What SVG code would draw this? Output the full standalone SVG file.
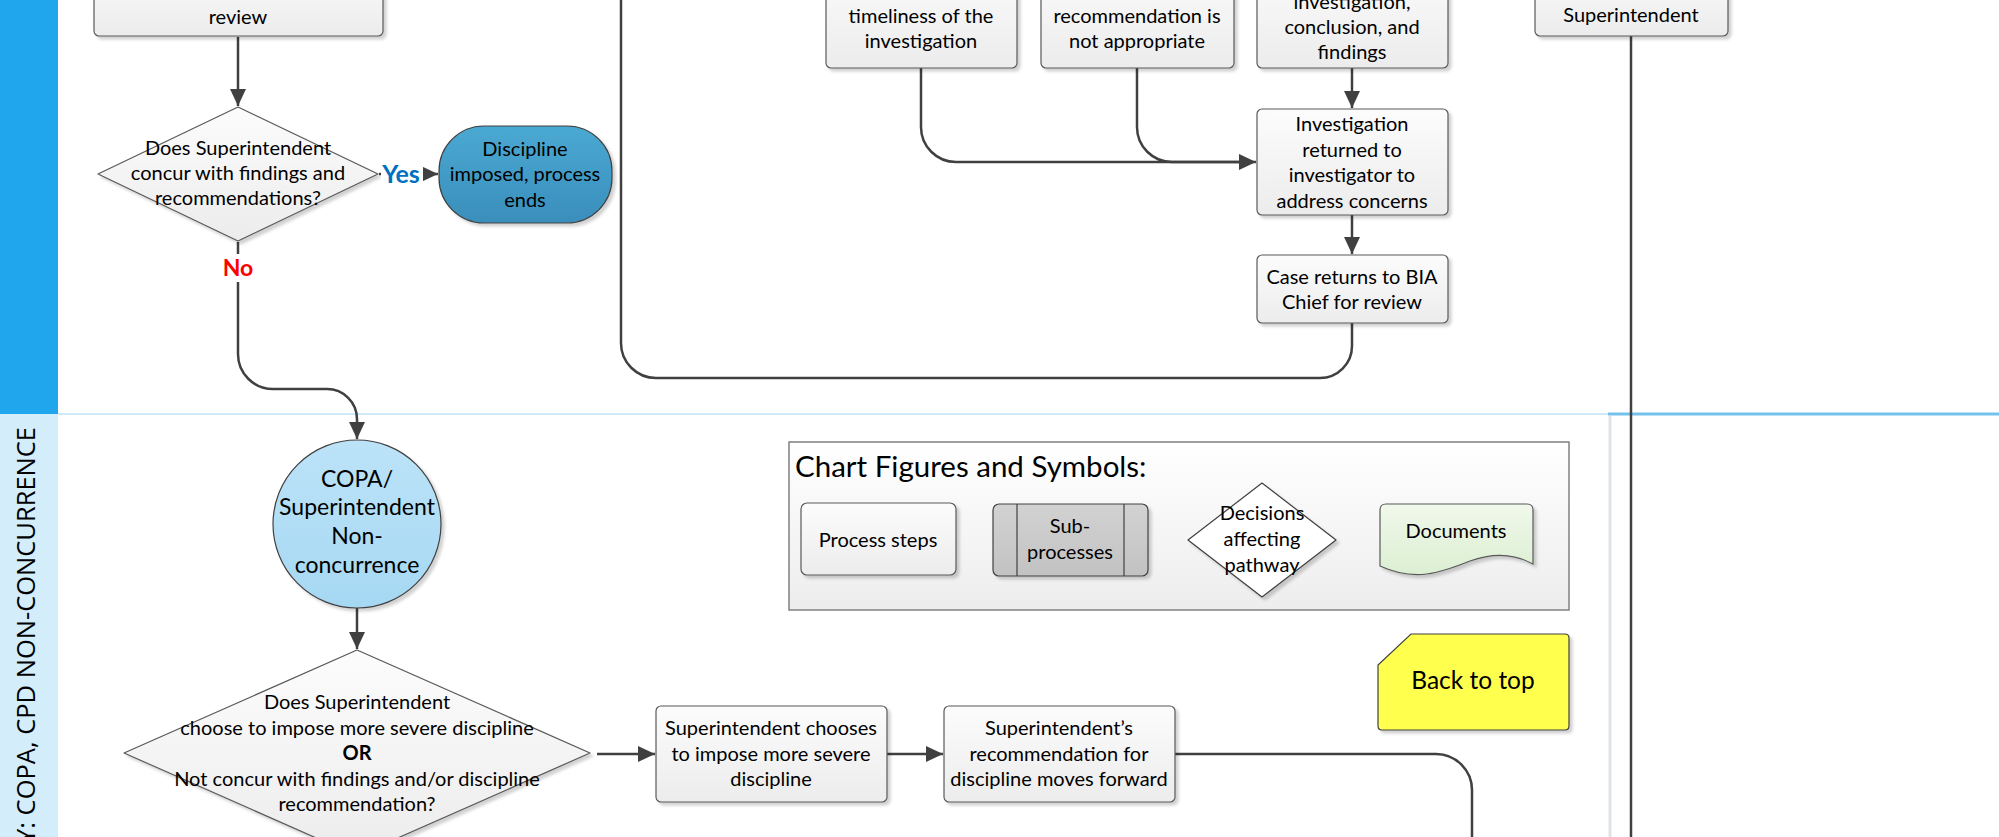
<svg xmlns="http://www.w3.org/2000/svg" width="1999" height="837" viewBox="0 0 1999 837">
<style>
.t{font-family:Lato,"Liberation Sans",sans-serif;font-size:20px;fill:#000;text-anchor:middle}
.box{fill:url(#gBox);stroke:#595959;stroke-width:1.2;filter:url(#sh)}
.c{fill:none;stroke:#404040;stroke-width:2.5}
.ca{fill:none;stroke:#404040;stroke-width:2.5;marker-end:url(#ah)}
</style>
<defs>
<linearGradient id="gBox" x1="0" y1="0" x2="0" y2="1"><stop offset="0" stop-color="#FCFCFC"/><stop offset="1" stop-color="#ECECEC"/></linearGradient>
<linearGradient id="gTerm" x1="0" y1="0" x2="0" y2="1"><stop offset="0" stop-color="#4AA9D2"/><stop offset="1" stop-color="#3A8EBB"/></linearGradient>
<linearGradient id="gCirc" x1="0" y1="0" x2="0" y2="1"><stop offset="0" stop-color="#BCE3F8"/><stop offset="1" stop-color="#A6D8F3"/></linearGradient>
<linearGradient id="gLeg" x1="0" y1="0" x2="0" y2="1"><stop offset="0" stop-color="#FFFFFF"/><stop offset="1" stop-color="#EDEDED"/></linearGradient>
<linearGradient id="gSub" x1="0" y1="0" x2="0" y2="1"><stop offset="0" stop-color="#D2D2D2"/><stop offset="1" stop-color="#C2C2C2"/></linearGradient>
<linearGradient id="gDoc" x1="0" y1="0" x2="0" y2="1"><stop offset="0" stop-color="#F0F8EB"/><stop offset="1" stop-color="#DCEFD2"/></linearGradient>
<filter id="sh" x="-10%" y="-10%" width="130%" height="130%"><feDropShadow dx="3" dy="3" stdDeviation="1.5" flood-color="#000" flood-opacity="0.18"/></filter>
<marker id="ah" markerUnits="userSpaceOnUse" markerWidth="17" markerHeight="16" refX="17" refY="8" orient="auto"><path d="M0,0 L17,8 L0,16 z" fill="#404040"/></marker>
</defs>

<g id="lanes">
<rect x="0" y="0" width="58" height="414" fill="#20A6ED"/>
<rect x="0" y="414" width="58" height="423" fill="#D3EDFB"/>
<line x1="58" y1="414" x2="1608" y2="414" stroke="#BFE3F6" stroke-width="1.5"/>
<line x1="1608" y1="414" x2="1999" y2="414" stroke="#74C2EC" stroke-width="3"/>
<line x1="1610" y1="416" x2="1610" y2="837" stroke="#DDE3E8" stroke-width="3"/>
<text transform="translate(35,427) rotate(-90)" style="font-family:'Open Sans','DejaVu Sans',sans-serif;font-size:25.5px;fill:#000;text-anchor:end">Y: COPA, CPD NON-CONCURRENCE</text>
</g>

<g id="connectors">
<path class="ca" d="M238,37 L238,106"/>
<path class="ca" d="M379,174 L438,174"/>
<path class="ca" d="M238,242 L238,354 A35,35 0 0 0 273,389 L327,389 A30,30 0 0 1 357,419 L357,439"/>
<path class="ca" d="M357,608 L357,649"/>
<path class="ca" d="M597,754 L655,754"/>
<path class="ca" d="M887,754 L943,754"/>
<path class="c" d="M1175,754 L1436,754 A36,36 0 0 1 1472,790 L1472,840"/>
<path class="ca" d="M1352,68 L1352,108"/>
<path class="ca" d="M921,68 L921,127 A35,35 0 0 0 956,162 L1256,162"/>
<path class="c" d="M1137,68 L1137,127 A35,35 0 0 0 1172,162 L1240,162"/>
<path class="ca" d="M1352,215 L1352,254"/>
<path class="c" d="M1352,323 L1352,346 A32,32 0 0 1 1320,378 L656,378 A35,35 0 0 1 621,343 L621,-10"/>
<path class="c" d="M1631,36 L1631,840"/>
</g>

<g id="nodeA"><rect class="box" x="94" y="-40" width="289" height="76" rx="5"/><text class="t" x="238" y="24">review</text></g>

<g id="decision1">
<path d="M98,174 L238,107 L378,174 L238,241 Z" fill="url(#gBox)" stroke="#595959" stroke-width="1.2" stroke-linejoin="round" filter="url(#sh)"/>
<text class="t" x="238"><tspan x="238" y="155">Does Superintendent</tspan><tspan x="238" y="180">concur with findings and</tspan><tspan x="238" y="205">recommendations?</tspan></text>
</g>
<g id="labelYes"><rect x="381" y="158" width="42" height="30" fill="#fff"/><text x="401" y="183" style="font-family:Lato,'Liberation Sans',sans-serif;font-size:25px;font-weight:bold;fill:#0070C0;text-anchor:middle">Yes</text></g>
<g id="labelNo"><rect x="220" y="254" width="36" height="28" fill="#fff"/><text x="238" y="276" style="font-family:Lato,'Liberation Sans',sans-serif;font-size:23px;font-weight:bold;fill:#FF0000;text-anchor:middle">No</text></g>

<g id="terminator">
<rect x="439" y="126" width="173" height="97" rx="45" fill="url(#gTerm)" stroke="#404040" stroke-width="1.2" filter="url(#sh)"/>
<text class="t"><tspan x="525" y="156">Discipline</tspan><tspan x="525" y="181">imposed, process</tspan><tspan x="525" y="207">ends</tspan></text>
</g>

<g id="nodeC1"><rect class="box" x="826" y="-40" width="191" height="108" rx="5"/><text class="t"><tspan x="921" y="23">timeliness of the</tspan><tspan x="921" y="48">investigation</tspan></text></g>
<g id="nodeC2"><rect class="box" x="1041" y="-40" width="193" height="108" rx="5"/><text class="t"><tspan x="1137" y="23">recommendation is</tspan><tspan x="1137" y="48">not appropriate</tspan></text></g>
<g id="nodeC3"><rect class="box" x="1257" y="-40" width="191" height="108" rx="5"/><text class="t"><tspan x="1352" y="9">investigation,</tspan><tspan x="1352" y="34">conclusion, and</tspan><tspan x="1352" y="59">findings</tspan></text></g>
<g id="nodeC4"><rect class="box" x="1257" y="109" width="191" height="106" rx="5"/><text class="t"><tspan x="1352" y="131">Investigation</tspan><tspan x="1352" y="157">returned to</tspan><tspan x="1352" y="182">investigator to</tspan><tspan x="1352" y="208">address concerns</tspan></text></g>
<g id="nodeC5"><rect class="box" x="1257" y="255" width="191" height="68" rx="5"/><text class="t"><tspan x="1352" y="284">Case returns to BIA</tspan><tspan x="1352" y="309">Chief for review</tspan></text></g>
<g id="nodeSup"><rect class="box" x="1535" y="-40" width="193" height="76" rx="5"/><text class="t" x="1631" y="22">Superintendent</text></g>

<g id="circle">
<ellipse cx="357" cy="524" rx="84" ry="84" fill="url(#gCirc)" stroke="#404040" stroke-width="1.2" filter="url(#sh)"/>
<text class="t" style="font-size:23px"><tspan x="357" y="487">COPA/</tspan><tspan x="357" y="515">Superintendent</tspan><tspan x="357" y="544">Non-</tspan><tspan x="357" y="573">concurrence</tspan></text>
</g>

<g id="decision2">
<path d="M124,753 L357,650 L590,753 L357,856 Z" fill="url(#gBox)" stroke="#595959" stroke-width="1.2" stroke-linejoin="round" filter="url(#sh)"/>
<text class="t"><tspan x="357" y="709">Does Superintendent</tspan><tspan x="357" y="735">choose to impose more severe discipline</tspan><tspan x="357" y="760" font-weight="bold">OR</tspan><tspan x="357" y="786">Not concur with findings and/or discipline</tspan><tspan x="357" y="811">recommendation?</tspan></text>
</g>

<g id="nodeB1"><rect class="box" x="656" y="706" width="231" height="96" rx="5"/><text class="t"><tspan x="771" y="735">Superintendent chooses</tspan><tspan x="771" y="761">to impose more severe</tspan><tspan x="771" y="786">discipline</tspan></text></g>
<g id="nodeB2"><rect class="box" x="944" y="706" width="231" height="96" rx="5"/><text class="t"><tspan x="1059" y="735">Superintendent’s</tspan><tspan x="1059" y="761">recommendation for</tspan><tspan x="1059" y="786">discipline moves forward</tspan></text></g>

<g id="legend">
<rect x="789" y="442" width="780" height="168" fill="url(#gLeg)" stroke="#808080" stroke-width="1.5"/>
<text x="795" y="477" style="font-family:Lato,'Liberation Sans',sans-serif;font-size:29.5px;fill:#000">Chart Figures and Symbols:</text>
<g id="legProcess"><rect class="box" x="801" y="503" width="155" height="72" rx="6"/><text class="t" x="878" y="547">Process steps</text></g>
<g id="legSub"><rect x="993" y="504" width="155" height="72" rx="6" fill="url(#gSub)" stroke="#404040" stroke-width="1.2" filter="url(#sh)"/><line x1="1017" y1="504" x2="1017" y2="576" stroke="#404040" stroke-width="1.2"/><line x1="1124" y1="504" x2="1124" y2="576" stroke="#404040" stroke-width="1.2"/><text class="t"><tspan x="1070" y="533">Sub-</tspan><tspan x="1070" y="559">processes</tspan></text></g>
<g id="legDecision"><path d="M1188,540 L1262,483 L1336,540 L1262,597 Z" fill="#fff" stroke="#404040" stroke-width="1.2" stroke-linejoin="round" filter="url(#sh)"/><text class="t"><tspan x="1262" y="520">Decisions</tspan><tspan x="1262" y="546">affecting</tspan><tspan x="1262" y="572">pathway</tspan></text></g>
<g id="legDoc"><path d="M1380,510 Q1380,504 1386,504 L1527,504 Q1533,504 1533,510 L1533,564 C1515,554 1495,552 1470,561 C1440,573 1415,582 1380,566 Z" fill="url(#gDoc)" stroke="#595959" stroke-width="1.2" filter="url(#sh)"/><text class="t" x="1456" y="538">Documents</text></g>
</g>

<g id="backToTop">
<path d="M1411,634 L1565,634 Q1569,634 1569,638 L1569,726 Q1569,730 1565,730 L1382,730 Q1378,730 1378,726 L1378,665 Z" fill="#FFFF4D" stroke="#404040" stroke-width="1.2" filter="url(#sh)"/>
<text class="t" x="1473" y="689" style="font-size:24.5px">Back to top</text>
</g>
</svg>
